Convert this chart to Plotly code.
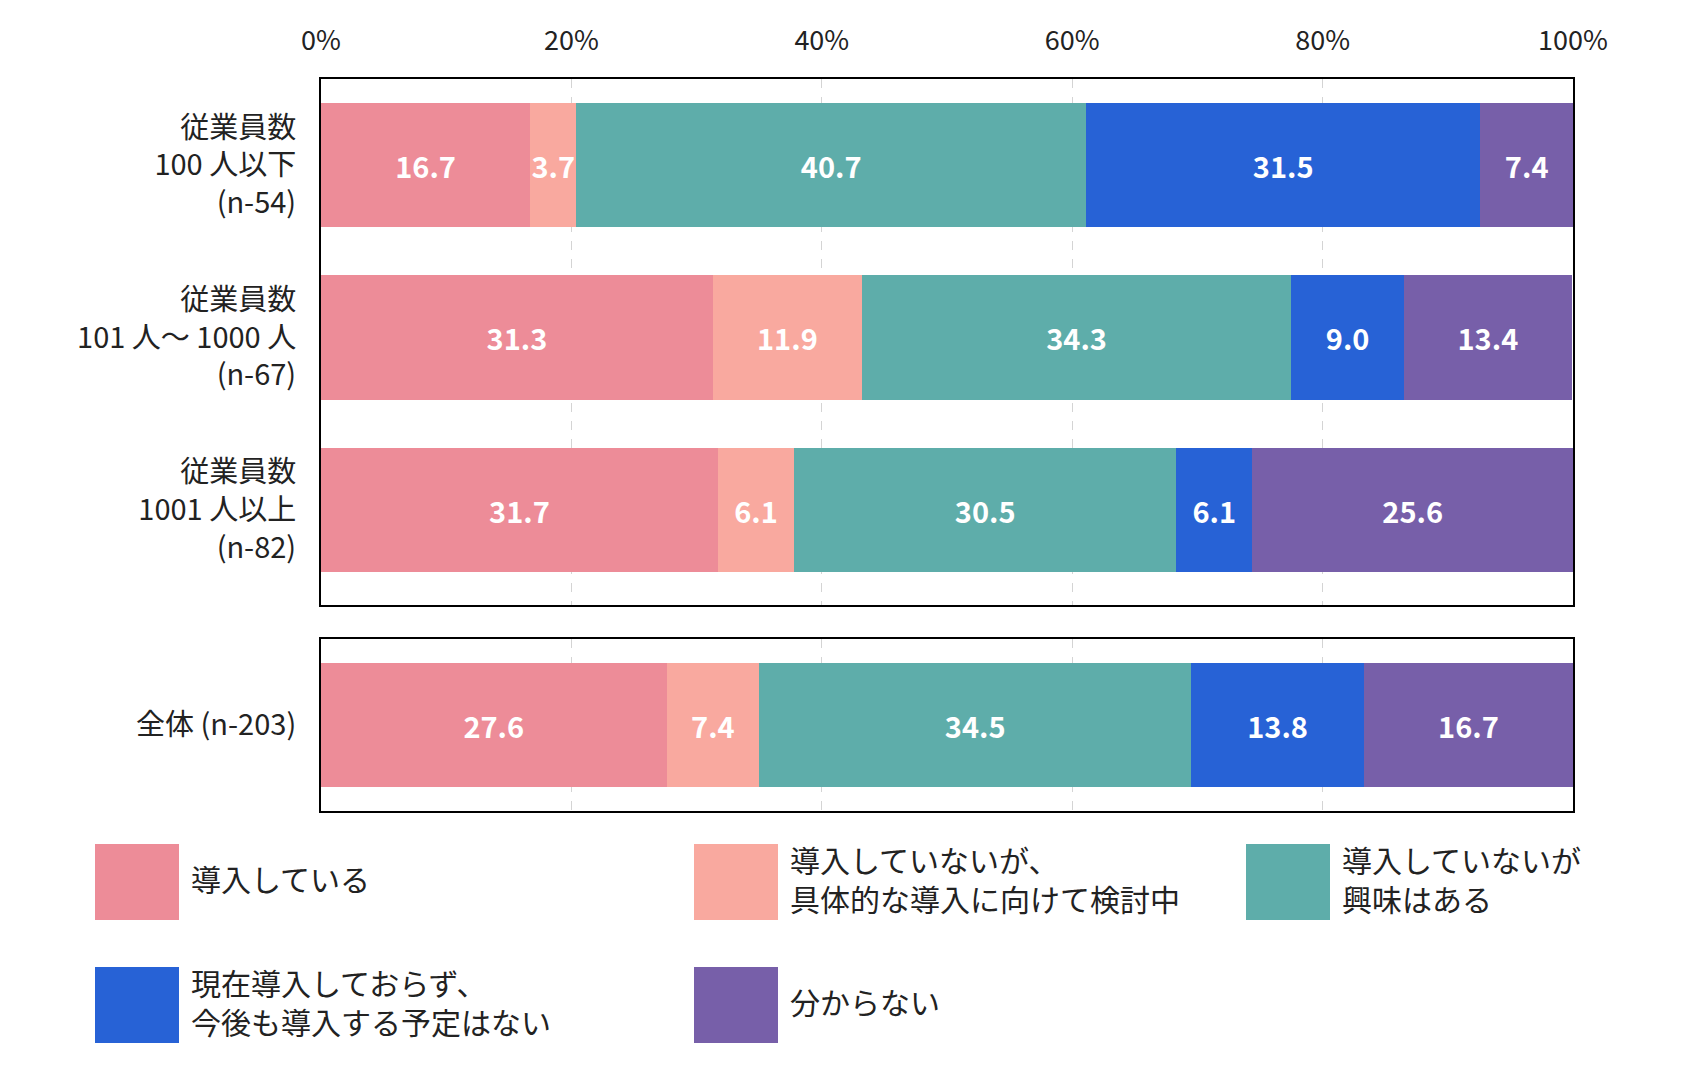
"""
従業員規模別の導入状況 (100% 積み上げ横棒)
上段: 従業員数 3 区分 / 下段: 全体
"""
import plotly.graph_objects as go

# ── データ ──
categories = [
    "従業員数<br>100 人以下<br>(n-54)",
    "従業員数<br>101 人〜 1000 人<br>(n-67)",
    "従業員数<br>1001 人以上<br>(n-82)",
]
total_label = ["全体 (n-203)"]

series_names = [
    "導入している",
    "導入していないが、<br>具体的な導入に向けて検討中",
    "導入していないが<br>興味はある",
    "現在導入しておらず、<br>今後も導入する予定はない",
    "分からない",
]
introduced = [16.7, 31.3, 31.7]
considering = [3.7, 11.9, 6.1]
interested = [40.7, 34.3, 30.5]
no_plan = [31.5, 9.0, 6.1]
unknown = [7.4, 13.4, 25.6]

total_values = [27.6, 7.4, 34.5, 13.8, 16.7]

x_ticks = [0, 20, 40, 60, 80, 100]

colors = ["#ED8C98", "#F9A99F", "#5EADAA", "#2762D6", "#775FA9"]

FONT = "Noto Sans CJK JP"
W, H = 1685, 1084
M_L, M_R, M_T, M_B = 313, 120, 71, 281

group_values = [introduced, considering, interested, no_plan, unknown]

bar_text = dict(
    texttemplate='%{x:.1f}', textposition='inside', textangle=0,
    insidetextanchor='middle', constraintext='none',
    textfont=dict(color='white', size=29, family=FONT, weight='bold'),
)

fig = go.Figure()

# 上段: 従業員数別
for name, vals, col in zip(series_names, group_values, colors):
    fig.add_trace(go.Bar(
        y=categories, x=vals, orientation='h',
        name=name, marker=dict(color=col, line=dict(width=0)),
        xaxis='x', yaxis='y', showlegend=False, **bar_text,
    ))

# 下段: 全体
for name, val, col in zip(series_names, total_values, colors):
    fig.add_trace(go.Bar(
        y=total_label, x=[val], orientation='h',
        name=name, marker=dict(color=col, line=dict(width=0)),
        xaxis='x2', yaxis='y2', showlegend=False, **bar_text,
    ))

# ── 凡例 (手動: 大きな四角 + テキスト) ──
plot_w = W - M_L - M_R
plot_h = H - M_T - M_B


def px_x(px):
    return (px - M_L) / plot_w


def px_y(py):
    return (H - M_B - py) / plot_h


leg_cols = [87, 686, 1238]       # 四角の左端 (px)
leg_rows = [836, 959]            # 四角の上端 (px)
sw_w, sw_h = 84, 76
for i, (name, col) in enumerate(zip(series_names, colors)):
    x0 = leg_cols[i % 3]
    y0 = leg_rows[i // 3]
    fig.add_shape(
        type='rect', xref='paper', yref='paper',
        x0=px_x(x0), x1=px_x(x0 + sw_w),
        y0=px_y(y0), y1=px_y(y0 + sw_h),
        fillcolor=col, line=dict(width=0),
    )
    fig.add_annotation(
        xref='paper', yref='paper',
        x=px_x(x0 + sw_w + 10), y=px_y(y0 + sw_h / 2 - 4),
        xanchor='left', yanchor='middle', align='left',
        text=name, showarrow=False,
        font=dict(size=30, color='#222222', family=FONT),
    )

axis_common = dict(
    range=[0, 100], tickvals=x_ticks,
    showgrid=True, gridcolor='#d4d4d4', griddash='dash', gridwidth=1,
    showline=True, linecolor='black', linewidth=2, mirror=True,
    zeroline=False, ticks='', fixedrange=True,
)

fig.update_layout(
    width=W, height=H,
    margin=dict(l=M_L, r=M_R, t=M_T, b=M_B),
    barmode='stack', bargap=0.28,
    plot_bgcolor='white', paper_bgcolor='white',
    font=dict(family=FONT, size=29, color='#222222'),
    xaxis=dict(**axis_common, side='top', anchor='y',
               ticktext=[f"{v}%" for v in x_ticks],
               tickfont=dict(size=27, color='#222222'),
               ticklabelstandoff=16),
    yaxis=dict(domain=[0.282, 1.0], range=[2.55, -0.5], anchor='x',
               showline=True, linecolor='black', linewidth=2, mirror=True,
               ticks='', ticklabelstandoff=17, fixedrange=True,
               tickfont=dict(size=29, color='#222222')),
    xaxis2=dict(**axis_common, anchor='y2', showticklabels=False),
    yaxis2=dict(domain=[0.0, 0.235], range=[-0.5, 0.5], anchor='x2',
                showline=True, linecolor='black', linewidth=2, mirror=True,
                ticks='', ticklabelstandoff=17, fixedrange=True,
                tickfont=dict(size=29, color='#222222')),
    uniformtext=dict(minsize=29, mode='show'),
    showlegend=False,
)

fig.write_html("out.html")
